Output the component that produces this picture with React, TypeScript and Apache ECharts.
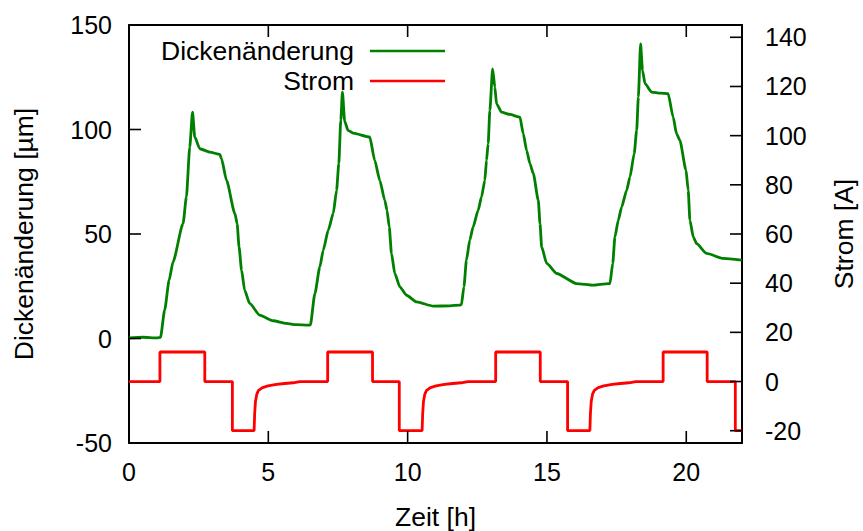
import React, { useEffect, useRef } from "react";
import * as echarts from "echarts";

const X_MIN = 0;
const X_MAX = 22;
const YL_MIN = -50;
const YL_MAX = 150;
const YR_MIN = -25;
const YR_MAX = 145;
const xTicks = [0, 5, 10, 15, 20];
const yLeftTicks = [-50, 0, 50, 100, 150];
const yRightTicks = [-20, 0, 20, 40, 60, 80, 100, 120, 140];

// Dickenänderung [µm] vs Zeit [h]
const thickness: [number, number][] = [
  [0, 0.3], [0.5, 0.6], [1.0, 0.3], [1.13, 0.5],
  [1.28, 13.6], [1.44, 27.9], [1.58, 36.7], [1.94, 55], [2.06, 67.7], [2.18, 91.6], [2.28, 108.3],
  [2.36, 96.4], [2.54, 90.8], [2.9, 89.2], [3.26, 88.1], [3.32, 86], [3.5, 75.7], [3.8, 59.8],
  [3.88, 55], [3.95, 43.8], [4.04, 32.7], [4.15, 23.1], [4.33, 16.8], [4.69, 11.2], [5.17, 8.5],
  [5.65, 7.2], [6.0, 6.6], [6.43, 6.4], [6.51, 6.5],
  [6.67, 21.5], [6.85, 34.3], [6.97, 42.2], [7.15, 51.8], [7.33, 59.8], [7.45, 70.9], [7.53, 83.7],
  [7.6, 104.3], [7.66, 117.9], [7.74, 104], [7.86, 99.6], [8.04, 98.3], [8.64, 96.4],
  [8.82, 85.2], [9.0, 75.7], [9.18, 66.1], [9.26, 61.3], [9.34, 53.4], [9.42, 40.7], [9.54, 31.1],
  [9.72, 24.7], [9.96, 20.7], [10.32, 17.5], [10.92, 15.5], [11.52, 15.6], [11.87, 16.0], [11.93, 16.2],
  [12.02, 24.7], [12.11, 37.5], [12.23, 47], [12.35, 53.4], [12.53, 61.3], [12.65, 67.7], [12.77, 75.7],
  [12.83, 85.2], [12.89, 93.2], [12.95, 109], [13.05, 129], [13.13, 120.3], [13.19, 112.3],
  [13.37, 108.3], [13.67, 107.2], [14.03, 105.9],
  [14.15, 98], [14.27, 90], [14.39, 83.7], [14.51, 78.9], [14.69, 66.1], [14.75, 55], [14.81, 43.8],
  [14.99, 35.9], [15.35, 31.1], [16.06, 26.3], [16.66, 25.5], [17.2, 26.3], [17.26, 26.2],
  [17.36, 35.9], [17.44, 48.6], [17.56, 56.6], [17.68, 62.9], [17.86, 70.9], [17.98, 77.3],
  [18.13, 88.4], [18.22, 99.6], [18.28, 115.5], [18.36, 141], [18.43, 128.2], [18.52, 121.9],
  [18.76, 117.9], [19.06, 117.4], [19.35, 117.1],
  [19.53, 105.9], [19.65, 98], [19.77, 94.8], [19.99, 80.5], [20.07, 70.9], [20.13, 56.6],
  [20.25, 48.6], [20.37, 45.4], [20.73, 40.7], [21.33, 38.3], [21.99, 37.5],
];

// Strom [A] vs Zeit [h]
const current: [number, number][] = [
  [0, 0], [1.11, 0], [1.11, 12], [2.72, 12], [2.72, 0], [3.71, 0], [3.71, -20], [4.49, -20],
  [4.51, -13], [4.54, -8], [4.59, -5], [4.65, -3.6], [4.79, -2.5], [4.99, -1.8], [5.29, -1.2],
  [5.59, -0.8], [5.89, -0.5], [6.13, 0], [7.13, 0], [7.13, 12], [8.74, 12], [8.74, 0], [9.7, 0],
  [9.7, -20], [10.52, -20], [10.54, -13], [10.57, -8], [10.62, -5], [10.68, -3.6], [10.82, -2.5],
  [11.02, -1.8], [11.32, -1.2], [11.62, -0.8], [11.92, -0.5], [12.17, 0], [13.16, 0], [13.16, 12],
  [14.76, 12], [14.76, 0], [15.74, 0], [15.74, -20], [16.54, -20], [16.56, -13], [16.59, -8],
  [16.64, -5], [16.7, -3.6], [16.84, -2.5], [17.04, -1.8], [17.34, -1.2], [17.64, -0.8],
  [17.94, -0.5], [18.19, 0], [19.17, 0], [19.17, 12], [20.75, 12], [20.75, 0], [21.76, 0],
  [21.76, -20], [22, -20],
];

const FONT = "'Liberation Sans', Arial, sans-serif";
const FS = 25;
const FS_TITLE = 26.5;
const TICK_LEN = 12;
const TICK_W = 1.6;

// tick drawn as a filled rectangle
const tickRect = (x: number, y: number, width: number, height: number) => ({
  type: "rect",
  silent: true,
  z: 100,
  shape: { x, y, width, height },
  style: { fill: "#000" },
});

export default function App() {
  const ref = useRef<HTMLDivElement>(null);
  useEffect(() => {
    if (!ref.current) return;
    const chart = echarts.init(ref.current, null, { renderer: "svg" });
    const line = { show: true, onZero: false, lineStyle: { color: "#000", width: 2 } };
    const noTick = { show: false };
    chart.setOption({
      animation: false,
      backgroundColor: "#fff",
      textStyle: { fontFamily: FONT },
      grid: {
        left: 129,
        right: 121,
        top: 25,
        bottom: 88,
        show: false,
        outerBoundsMode: "none",
        containLabel: false,
      },
      legend: {
        right: 418,
        top: 36,
        orient: "vertical",
        align: "right",
        padding: 0,
        itemGap: 0,
        itemWidth: 75,
        itemHeight: 2.5,
        icon: "rect",
        textStyle: {
          fontFamily: FONT,
          fontSize: FS_TITLE,
          color: "#000",
          lineHeight: 30,
          padding: [0, 11, 0, 0],
        },
        data: ["Dickenänderung", "Strom"],
      },
      xAxis: [
        {
          type: "value",
          position: "bottom",
          min: X_MIN,
          max: X_MAX,
          interval: 5,
          name: "Zeit [h]",
          nameLocation: "middle",
          nameGap: 60,
          nameTextStyle: { fontFamily: FONT, fontSize: FS_TITLE, color: "#000" },
          axisLine: line,
          axisTick: noTick,
          axisLabel: {
            fontFamily: FONT,
            fontSize: FS,
            color: "#000",
            margin: 16,
            customValues: xTicks,
          },
          splitLine: { show: false },
        },
        {
          type: "value",
          position: "top",
          min: X_MIN,
          max: X_MAX,
          interval: 5,
          axisLine: line,
          axisTick: noTick,
          axisLabel: { show: false },
          splitLine: { show: false },
        },
      ],
      yAxis: [
        {
          type: "value",
          position: "left",
          min: YL_MIN,
          max: YL_MAX,
          interval: 50,
          name: "Dickenänderung [µm]",
          nameLocation: "middle",
          nameGap: 92,
          nameTextStyle: { fontFamily: FONT, fontSize: FS_TITLE, color: "#000" },
          axisLine: line,
          axisTick: noTick,
          axisLabel: {
            fontFamily: FONT,
            fontSize: FS,
            color: "#000",
            margin: 17,
            customValues: yLeftTicks,
          },
          splitLine: { show: false },
        },
        {
          type: "value",
          position: "right",
          min: YR_MIN,
          max: YR_MAX,
          name: "Strom [A]",
          nameLocation: "middle",
          nameGap: 88,
          nameTextStyle: { fontFamily: FONT, fontSize: FS_TITLE, color: "#000" },
          axisLine: line,
          axisTick: noTick,
          axisLabel: {
            fontFamily: FONT,
            fontSize: FS,
            color: "#000",
            margin: 23,
            customValues: yRightTicks,
          },
          splitLine: { show: false },
        },
      ],
      series: [
        {
          name: "Dickenänderung",
          type: "line",
          xAxisIndex: 0,
          yAxisIndex: 0,
          data: thickness,
          showSymbol: false,
          symbol: "none",
          smooth: 0.2,
          smoothMonotone: "x",
          lineStyle: { color: "#008000", width: 2.8 },
          itemStyle: { color: "#008000" },
        },
        {
          name: "Strom",
          type: "line",
          xAxisIndex: 0,
          yAxisIndex: 1,
          data: current,
          showSymbol: false,
          symbol: "none",
          lineStyle: { color: "#ff0000", width: 2.8 },
          itemStyle: { color: "#ff0000" },
        },
      ],
    });

    // Tick marks placed through the chart's own axis scales
    const px = (v: number) => Number(chart.convertToPixel({ xAxisIndex: 0 }, v));
    const pyL = (v: number) => Number(chart.convertToPixel({ yAxisIndex: 0 }, v));
    const pyR = (v: number) => Number(chart.convertToPixel({ yAxisIndex: 1 }, v));
    const left = px(X_MIN);
    const right = px(X_MAX);
    const top = pyL(YL_MAX);
    const bottom = pyL(YL_MIN);
    const h = TICK_W / 2;
    const gfx: any[] = [];
    xTicks.forEach((v) => {
      const x = px(v);
      gfx.push(tickRect(x - h, bottom - TICK_LEN, TICK_W, TICK_LEN));
      gfx.push(tickRect(x - h, top, TICK_W, TICK_LEN));
    });
    yLeftTicks.forEach((v) => {
      const y = pyL(v);
      gfx.push(tickRect(left, y - h, TICK_LEN, TICK_W));
    });
    yRightTicks.forEach((v) => {
      const y = pyR(v);
      gfx.push(tickRect(right - TICK_LEN, y - h, TICK_LEN, TICK_W));
    });
    chart.setOption({ graphic: { elements: gfx } });

    return () => chart.dispose();
  }, []);
  return (
    <div
      ref={ref}
      style={{ position: "fixed", left: 0, top: 0, width: 863, height: 531, background: "#fff" }}
    />
  );
}
